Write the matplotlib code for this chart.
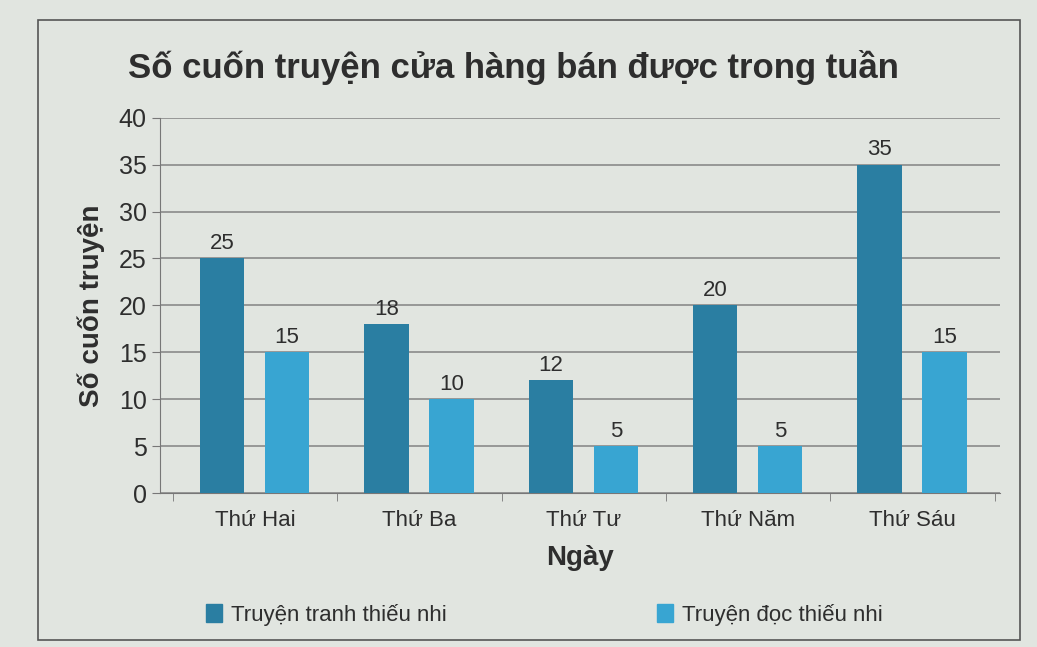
import matplotlib.pyplot as plt
import numpy as np
from matplotlib.patches import Rectangle, Patch

days = ['Thứ Hai', 'Thứ Ba', 'Thứ Tư', 'Thứ Năm', 'Thứ Sáu']
truyen_tranh = [25, 18, 12, 20, 35]
truyen_doc = [15, 10, 5, 5, 15]

c_dark = '#2a7ea2'
c_light = '#38a5d2'
bg = '#e1e5e0'
txt = '#2e2e2e'

plt.rcParams['font.family'] = ['Liberation Sans', 'DejaVu Sans']

fig = plt.figure(figsize=(10.37, 6.47), dpi=100, facecolor=bg)
ax = fig.add_axes([0.154, 0.238, 0.81, 0.58], facecolor=bg)

# khung ngoài
fig.patches.append(Rectangle((38 / 1037, 1 - 640 / 647), (1020 - 38) / 1037, (640 - 20) / 647,
                             transform=fig.transFigure, fill=False, edgecolor='#555555', lw=1.2))

x = np.arange(len(days))
w = 0.27
b1 = ax.bar(x - 0.2, truyen_tranh, w, color=c_dark, zorder=3)
b2 = ax.bar(x + 0.195, truyen_doc, w, color=c_light, zorder=3)
ax.bar_label(b1, padding=3, fontsize=16, color=txt)
ax.bar_label(b2, padding=3, fontsize=16, color=txt)

ax.set_xlim(-0.58, 4.53)
ax.set_ylim(0, 40)
ax.set_yticks(range(0, 41, 5))
ax.yaxis.grid(True, color='#8a8a8a', lw=1.2, zorder=0)
ax.set_xticks(x)
ax.set_xticklabels(days)
ax.set_xticks(np.arange(-0.5, 4.6, 1), minor=True)
ax.tick_params(axis='x', which='major', length=0, pad=12, labelsize=16, labelcolor=txt)
ax.tick_params(axis='x', which='minor', length=6, color='#777777')
ax.tick_params(axis='y', length=6, color='#777777', labelsize=18, labelcolor=txt)
for s in ['top', 'right']:
    ax.spines[s].set_visible(False)
ax.spines['left'].set_color('#777777')
ax.spines['bottom'].set_color('#777777')

ax.set_ylabel('Số cuốn truyện', fontsize=20, fontweight='bold', color=txt, labelpad=10)
ax.set_xlabel('Ngày', fontsize=20, fontweight='bold', color=txt, labelpad=10)
fig.text(0.495, 0.895, 'Số cuốn truyện cửa hàng bán được trong tuần',
         ha='center', va='center', fontsize=25, fontweight='bold', color=txt)

fig.legend(handles=[Patch(color=c_dark, label='Truyện tranh thiếu nhi'),
                    Patch(color=c_light, label='Truyện đọc thiếu nhi')],
           loc='center', bbox_to_anchor=(0.525, 0.05), ncol=2, frameon=False,
           fontsize=16, handlelength=0.7, handleheight=0.9, columnspacing=9.5,
           handletextpad=0.4, labelcolor=txt)

fig.savefig('out.png', dpi=100, facecolor=bg)
